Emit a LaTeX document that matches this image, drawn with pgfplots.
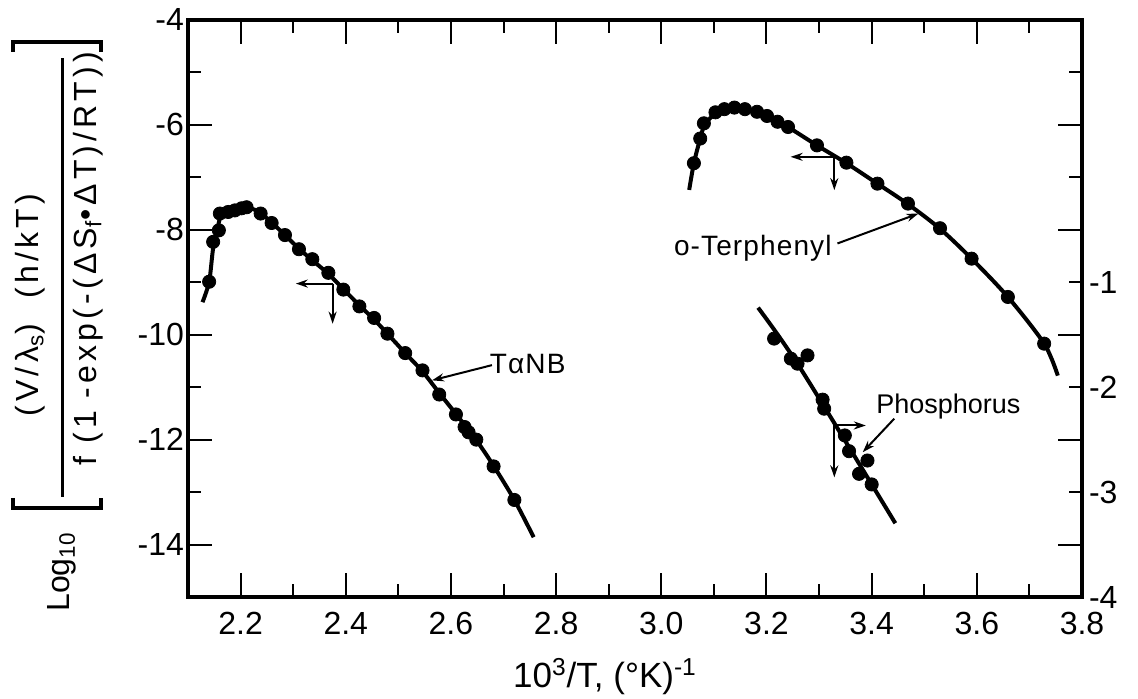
\documentclass[border=0pt]{standalone}
\usepackage{fontspec}
\setmainfont{Liberation Sans}
\newfontfamily\spacedfont[LetterSpace=13]{Liberation Sans}
\newfontfamily\annfont[LetterSpace=4]{Liberation Sans}
\usepackage{pgfplots}
\pgfplotsset{compat=1.18}
\usepackage{pgfplotstable}
\usetikzlibrary{arrows.meta}

% T-alpha-NB (left axis)
\pgfplotstableread{
x y
2.1402 -8.99
2.1478 -8.23
2.1587 -8.01
2.1606 -7.69
2.1764 -7.66
2.1891 -7.63
2.2019 -7.59
2.2114 -7.57
2.2381 -7.69
2.2590 -7.87
2.2844 -8.10
2.3110 -8.37
2.3364 -8.56
2.3669 -8.82
2.3954 -9.14
2.4259 -9.46
2.4539 -9.68
2.4792 -9.98
2.5130 -10.35
2.5459 -10.68
2.5777 -11.14
2.6095 -11.52
2.6259 -11.76
2.6335 -11.86
2.6482 -12.00
2.6811 -12.51
2.7206 -13.15
}\tanbdata
\pgfplotstableread{
x y
2.1276 -9.38
2.1402 -8.99
2.1478 -8.35
2.1560 -7.98
2.1630 -7.72
2.1764 -7.65
2.1891 -7.62
2.2019 -7.585
2.2114 -7.575
2.2250 -7.61
2.2381 -7.68
2.2590 -7.86
2.2844 -8.10
2.3110 -8.36
2.3364 -8.58
2.3669 -8.84
2.3954 -9.13
2.4259 -9.44
2.4539 -9.71
2.4792 -9.98
2.5130 -10.35
2.5459 -10.70
2.5777 -11.11
2.6095 -11.51
2.6482 -12.01
2.6811 -12.50
2.7206 -13.15
2.7573 -13.86
}\tanbcurve

% o-Terphenyl (left axis)
\pgfplotstableread{
x y
3.062 -6.73
3.074 -6.26
3.081 -5.97
3.103 -5.76
3.120 -5.70
3.139 -5.67
3.159 -5.70
3.182 -5.75
3.201 -5.83
3.221 -5.94
3.241 -6.04
3.296 -6.39
3.352 -6.72
3.411 -7.12
3.469 -7.50
3.530 -7.97
3.590 -8.55
3.659 -9.28
3.728 -10.17
}\otpdata
\pgfplotstableread{
x y
3.053 -7.24
3.062 -6.73
3.074 -6.26
3.083 -5.99
3.103 -5.78
3.120 -5.71
3.139 -5.68
3.159 -5.70
3.182 -5.75
3.201 -5.83
3.221 -5.93
3.241 -6.04
3.296 -6.39
3.352 -6.73
3.411 -7.12
3.469 -7.51
3.530 -7.98
3.590 -8.55
3.659 -9.28
3.728 -10.17
3.754 -10.78
}\otpcurve

% Phosphorus (right axis)
\pgfplotstableread{
x y
3.2145 -1.537
3.2463 -1.728
3.2590 -1.776
3.2780 -1.697
3.3067 -2.119
3.3097 -2.205
3.3490 -2.460
3.3570 -2.610
3.3920 -2.699
3.3760 -2.826
3.4000 -2.927
}\phosdata
\pgfplotstableread{
x y
3.184 -1.242
3.265 -1.824
3.445 -3.297
}\phoscurve

\begin{document}
\begin{tikzpicture}[>={Stealth[length=6pt,width=4pt]}]
\path[use as bounding box] (-94pt,-51pt) rectangle (475pt,298.5pt);

\begin{axis}[
  at={(0,0)}, anchor=south west,
  scale only axis, width=447pt, height=288.5pt,
  xmin=2.1, xmax=3.8, ymin=-15, ymax=-4,
  xtick={2.2,2.4,2.6,2.8,3.0,3.2,3.4,3.6,3.8},
  minor xtick={2.3,2.5,2.7,2.9,3.1,3.3,3.5,3.7},
  ytick={-14,-12,-10,-8,-6,-4},
  minor ytick={-13,-11,-9,-7,-5},
  tick align=inside, xtick pos=both, ytick pos=both,
  major tick length=12pt, minor tick length=6.5pt,
  tick style={black, line width=1pt},
  axis line style={line width=1.8pt},
  /pgf/number format/assume math mode=true,
  tick label style={font=\fontsize{16}{19}\selectfont},
  x tick label style={/pgf/number format/.cd, fixed, fixed zerofill, precision=1, /tikz/.cd, yshift=-4pt},
  y tick label style={xshift=1.5pt},
  clip=false,
]
\addplot[black, line width=2pt, smooth, tension=0.5, no markers] table {\tanbcurve};
\addplot[black, only marks, mark=*, mark size=3.3pt] table {\tanbdata};
\addplot[black, line width=2pt, smooth, tension=0.5, no markers] table {\otpcurve};
\addplot[black, only marks, mark=*, mark size=3.3pt] table {\otpdata};

% axis-reading arrows
\draw[line width=1pt, ->] (axis cs:2.375,-9.025) -- (axis cs:2.305,-9.025);
\draw[line width=1pt, ->] (axis cs:2.375,-9.025) -- (axis cs:2.375,-9.79);
\draw[line width=1pt, ->] (axis cs:3.329,-6.609) -- (axis cs:3.246,-6.609);
\draw[line width=1pt, ->] (axis cs:3.329,-6.609) -- (axis cs:3.329,-7.244);
\draw[line width=1pt, ->] (axis cs:3.329,-11.73) -- (axis cs:3.389,-11.73);
\draw[line width=1pt, ->] (axis cs:3.329,-11.73) -- (axis cs:3.329,-12.72);

% series labels
\node[anchor=base, font=\annfont\fontsize{14}{17}\selectfont] at (axis cs:2.746,-10.73) {TαNB};
\draw[line width=1pt, ->] (axis cs:2.678,-10.58) -- (axis cs:2.564,-10.87);
\node[anchor=base, font=\annfont\fontsize{14}{17}\selectfont] at (axis cs:3.174,-8.485) {o-Terphenyl};
\draw[line width=1pt, ->] (axis cs:3.335,-8.26) -- (axis cs:3.489,-7.69);
\node[anchor=base, font=\fontsize{13.5}{16}\selectfont] at (axis cs:3.546,-11.506) {Phosphorus};
\draw[line width=1pt, ->] (axis cs:3.443,-11.60) -- (axis cs:3.383,-12.24);
\end{axis}

\begin{axis}[
  at={(0,0)}, anchor=south west,
  scale only axis, width=447pt, height=288.5pt,
  xmin=2.1, xmax=3.8, ymin=-4, ymax=1.5,
  hide x axis, axis y line*=right,
  y axis line style={draw=none},
  ytick={-4,-3,-2,-1}, major tick length=0pt,
  /pgf/number format/assume math mode=true,
  tick label style={font=\fontsize{16}{19}\selectfont},
  y tick label style={xshift=0pt},
  clip=false,
]
\addplot[black, line width=2pt, smooth, tension=0.5, no markers] table {\phoscurve};
\addplot[black, only marks, mark=*, mark size=3.3pt] table {\phosdata};
\end{axis}

% vertical axis title and horizontal axis title
\begin{scope}[x=0.5pt, y=0.5pt]
\draw[line width=2.2pt] (-175,545) -- (-175,555) -- (-87,555) -- (-87,545);
\draw[line width=2.2pt] (-175,99) -- (-175,89) -- (-87,89) -- (-87,99);
\draw[line width=1.5pt] (-125,100) -- (-125,539);
\node[rotate=90, font=\spacedfont\fontsize{16}{19}\selectfont] at (-158,292)
  {(V/λ\textsubscript{s})\ \ (h/kT)};
\node[rotate=90, font=\spacedfont\fontsize{16}{19}\selectfont] at (-100,338)
  {f (1 -exp(-(ΔS\textsubscript{f}•ΔT)/RT))};
\node[rotate=90, font=\fontsize{16}{19}\selectfont] at (-126,25) {Log\textsubscript{10}};
\node[anchor=base, font=\fontsize{17.5}{21}\selectfont] at (417,-91)
  {10\textsuperscript{3}/T, (°K)\textsuperscript{-1}};
\end{scope}
\end{tikzpicture}
\end{document}
